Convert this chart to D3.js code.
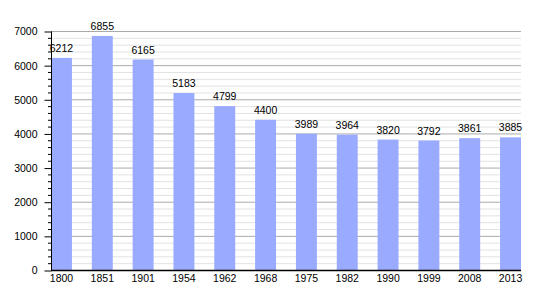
<!DOCTYPE html>
<html><head><meta charset="utf-8">
<script src="https://cdn.jsdelivr.net/npm/d3@7/dist/d3.min.js"></script>
<style>body{margin:0;background:#fff}svg{display:block;font-family:"Liberation Sans",Arial,sans-serif}</style>
</head><body>
<svg id="c" width="550" height="300"></svg>
<script>
const years = ["1800","1851","1901","1954","1962","1968","1975","1982","1990","1999","2008","2013"];
const population = [6212,6855,6165,5183,4799,4400,3989,3964,3820,3792,3861,3885];
const yTicks = [0,1000,2000,3000,4000,5000,6000,7000];

const svg = d3.select("#c");
const L = 51, R = 521, T = 31, B = 270;
const FS = 10.5;
const x = d3.scaleBand().domain(years).range([L, R]).paddingInner(0.487).paddingOuter(0);
const y = d3.scaleLinear().domain([0, 7000]).range([B, T]);

const minor = d3.range(0, 7001, 200);
svg.append("g").selectAll("line").data(minor.filter(v => v % 1000 !== 0)).join("line")
  .attr("x1", L).attr("x2", R).attr("y1", d => y(d)+0.5).attr("y2", d => y(d)+0.5)
  .attr("stroke", "#e2e2e2").attr("stroke-width", 1);
svg.append("g").selectAll("line").data(yTicks.filter(v => v > 0)).join("line")
  .attr("x1", L).attr("x2", R).attr("y1", d => y(d)+0.5).attr("y2", d => y(d)+0.5)
  .attr("stroke", "#aaaaaa").attr("stroke-width", 1);

svg.append("g").selectAll("rect").data(population).join("rect")
  .attr("x", (d,i) => x(years[i])).attr("width", x.bandwidth())
  .attr("y", d => y(d)).attr("height", d => B - y(d))
  .attr("fill", "#99aaff");

svg.append("g").selectAll("text").data(population).join("text")
  .attr("x", (d,i) => x(years[i]) + x.bandwidth()/2).attr("y", d => y(d) - 6)
  .attr("text-anchor", "middle").attr("font-size", FS).attr("fill", "#000").text(d => d);

// minor ticks
svg.append("g").selectAll("line").data(minor.filter(v => v % 1000 !== 0)).join("line")
  .attr("x1", L-3).attr("x2", L).attr("y1", d => y(d)+0.5).attr("y2", d => y(d)+0.5)
  .attr("stroke", "#000");

const yAxis = d3.axisLeft(y).tickValues(yTicks).tickSize(7).tickPadding(7).tickFormat(d3.format("d"));
const gy = svg.append("g").attr("transform", `translate(${L+0.5},0.5)`).call(yAxis);
gy.select(".domain").attr("d", `M0,${T}V${B}`);
gy.selectAll("text").attr("font-size", FS).attr("font-family", "Liberation Sans, Arial, sans-serif").attr("fill","#000");

const xAxis = d3.axisBottom(x).tickSize(0).tickPadding(4);
const gx = svg.append("g").attr("transform", `translate(0,${B+0.5})`).call(xAxis);
gx.select(".domain").attr("d", `M${L},0H${R}`).attr("stroke", "#000").attr("stroke-width", 1.5);
gx.selectAll("text").attr("font-size", FS).attr("font-family", "Liberation Sans, Arial, sans-serif").attr("fill","#000");
</script>
</body></html>
